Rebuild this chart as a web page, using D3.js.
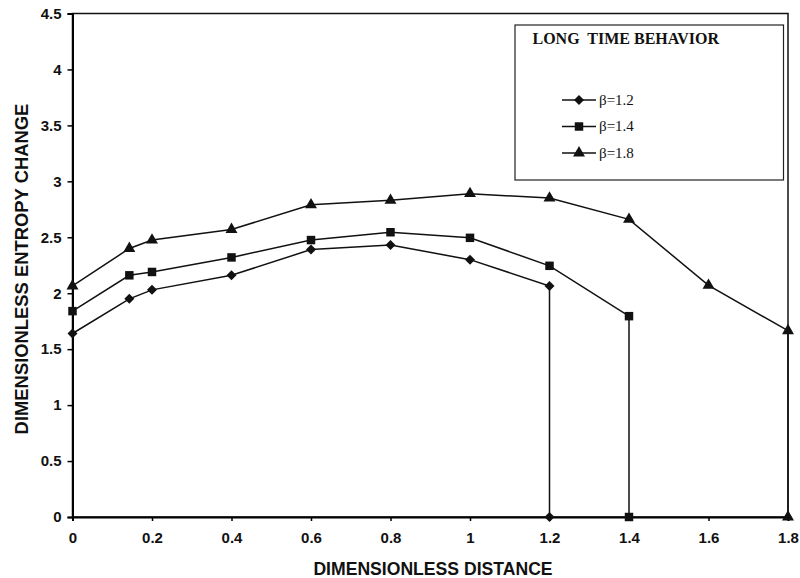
<!DOCTYPE html>
<html lang="en">
<head>
	<meta charset="UTF-8">
	<title>Long time behavior</title>
	<script src="https://cdn.jsdelivr.net/npm/d3@7"></script>
	<style>
		body { margin: 0; background: #fff; }
		.tick text { font-family: "Liberation Sans", Arial, sans-serif; font-weight: bold; font-size: 15px; fill: #111; }
		.axis-title { font-family: "Liberation Sans", Arial, sans-serif; font-weight: bold; fill: #111; }
		.legend text { font-family: "Liberation Serif", "Times New Roman", serif; fill: #111; }
	</style>
</head>
<body>
<svg id="grafico" width="800" height="578"></svg>
<script>
// distances (x) and dimensionless entropy change for each beta
var dist12 = [0, 0.143, 0.2, 0.4, 0.6, 0.8, 1.0, 1.2, 1.2];
var beta12 = [1.64, 1.95, 2.03, 2.16, 2.39, 2.43, 2.30, 2.065, 0];

var dist14 = [0, 0.143, 0.2, 0.4, 0.6, 0.8, 1.0, 1.2, 1.4, 1.4];
var beta14 = [1.84, 2.16, 2.19, 2.32, 2.475, 2.545, 2.495, 2.245, 1.795, 0];

var dist18 = [0, 0.143, 0.2, 0.4, 0.6, 0.8, 1.0, 1.2, 1.4, 1.6, 1.8, 1.8];
var beta18 = [2.065, 2.40, 2.475, 2.57, 2.79, 2.83, 2.89, 2.85, 2.66, 2.07, 1.665, 0];

var xTicks = [0, 0.2, 0.4, 0.6, 0.8, 1, 1.2, 1.4, 1.6, 1.8];
var yTicks = [0, 0.5, 1, 1.5, 2, 2.5, 3, 3.5, 4, 4.5];
var seriesNames = ["\u03b2=1.2", "\u03b2=1.4", "\u03b2=1.8"];
var markers = ["diamond", "square", "triangle"];

var svg = d3.select("#grafico");
var mLeft = 72.5, mRight = 788, mTop = 13.5, mBottom = 517;

var x = d3.scaleLinear().domain([0, 1.8]).range([mLeft, mRight]);
var y = d3.scaleLinear().domain([0, 4.5]).range([mBottom, mTop]);

// frame
svg.append("rect")
	.attr("x", mLeft).attr("y", mTop)
	.attr("width", mRight - mLeft).attr("height", mBottom - mTop)
	.attr("fill", "none").attr("stroke", "#111").attr("stroke-width", 1.5);

var fmt = function(d){ return String(+d.toFixed(1)); };

var xAxis = svg.append("g")
	.attr("transform", "translate(0," + mBottom + ")")
	.call(d3.axisBottom(x).tickValues(xTicks).tickSize(4).tickPadding(11).tickFormat(fmt));
xAxis.select(".domain").attr("stroke-width", 2);
xAxis.selectAll(".tick line").attr("stroke-width", 1.5);

var yAxis = svg.append("g")
	.attr("transform", "translate(" + mLeft + ",0)")
	.call(d3.axisLeft(y).tickValues(yTicks).tickSize(5).tickPadding(6).tickFormat(fmt));
yAxis.select(".domain").attr("stroke-width", 2);
yAxis.selectAll(".tick line").attr("stroke-width", 1.5);

svg.append("text").attr("class", "axis-title")
	.attr("x", 433).attr("y", 575)
	.attr("text-anchor", "middle").style("font-size", "17.6px")
	.text("DIMENSIONLESS DISTANCE");

svg.append("text").attr("class", "axis-title")
	.attr("transform", "translate(28,269) rotate(-90)")
	.attr("text-anchor", "middle").style("font-size", "18.4px")
	.text("DIMENSIONLESS ENTROPY CHANGE");

// diamond = square turned 45 degrees
function symbolFor(m){
	if (m === "diamond") return d3.symbol().type(d3.symbolSquare).size(50)();
	if (m === "square") return d3.symbol().type(d3.symbolSquare).size(72)();
	return d3.symbol().type(d3.symbolTriangle).size(62)();
}
function rot(m){ return m === "diamond" ? " rotate(45)" : ""; }

var series = [
	{ xs: dist12, ys: beta12 },
	{ xs: dist14, ys: beta14 },
	{ xs: dist18, ys: beta18 }
];

var line = d3.line().x(function(d){ return x(d[0]); }).y(function(d){ return y(d[1]); });

series.forEach(function(s, i){
	var pts = s.xs.map(function(v, j){ return [v, s.ys[j]]; });
	svg.append("path").datum(pts)
		.attr("d", line)
		.attr("fill", "none").attr("stroke", "#111").attr("stroke-width", 1.5);
	svg.selectAll(".m" + i).data(pts).enter().append("path")
		.attr("class", "m" + i)
		.attr("transform", function(d){ return "translate(" + x(d[0]) + "," + y(d[1]) + ")" + rot(markers[i]); })
		.attr("d", symbolFor(markers[i]))
		.attr("fill", "#111");
});

// legend
var lg = svg.append("g").attr("class", "legend");
lg.append("rect")
	.attr("x", 515).attr("y", 25).attr("width", 268.5).attr("height", 155)
	.attr("fill", "#fff").attr("stroke", "#222").attr("stroke-width", 1.2);
lg.append("text")
	.attr("x", 532.5).attr("y", 44)
	.style("font-size", "16px").style("font-weight", "bold")
	.style("white-space", "pre")
	.text("LONG  TIME BEHAVIOR");

seriesNames.forEach(function(name, i){
	var cy = 100 + i * 26.5;
	lg.append("line")
		.attr("x1", 562).attr("x2", 596).attr("y1", cy).attr("y2", cy)
		.attr("stroke", "#111").attr("stroke-width", 1.5);
	lg.append("path")
		.attr("transform", "translate(579," + cy + ")" + rot(markers[i]))
		.attr("d", symbolFor(markers[i]))
		.attr("fill", "#111");
	lg.append("text")
		.attr("x", 599).attr("y", cy + 4.5)
		.style("font-size", "15px")
		.text(name);
});
</script>
</body>
</html>
